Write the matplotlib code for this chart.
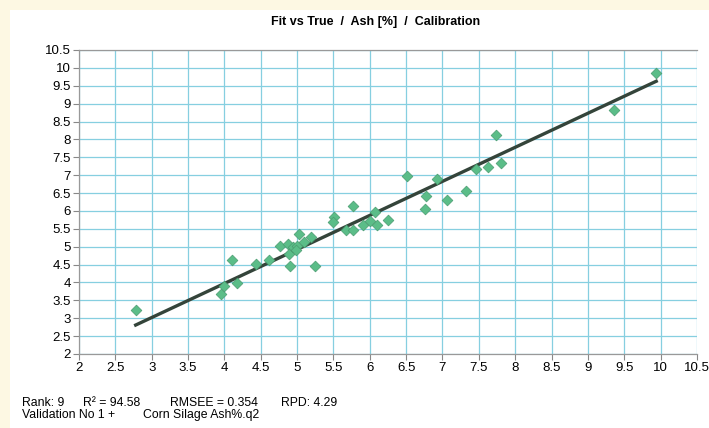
import numpy as np
import matplotlib.pyplot as plt
from matplotlib.patches import Rectangle

plt.rcParams['font.family'] = ['Liberation Sans', 'DejaVu Sans']

# True vs fitted ash values (%)
true_vals = [2.79, 3.96, 3.99, 4.10, 4.17, 4.43, 4.62, 4.76, 4.87, 4.89,
             4.90, 4.95, 5.03, 5.00, 4.99, 5.10, 5.19, 5.25, 5.51, 5.50,
             5.77, 5.67, 5.77, 5.91, 6.00, 6.07, 6.10, 6.25, 6.51, 6.78,
             6.76, 6.93, 7.06, 7.32, 7.46, 7.62, 7.73, 7.80, 9.36, 9.94]
fit_vals = [3.23, 3.67, 3.90, 4.62, 3.99, 4.52, 4.62, 5.01, 5.08, 4.80,
            4.47, 5.00, 5.36, 5.02, 4.90, 5.12, 5.26, 4.47, 5.82, 5.69,
            6.15, 5.46, 5.46, 5.60, 5.73, 5.97, 5.62, 5.74, 6.97, 6.41,
            6.06, 6.88, 6.30, 6.56, 7.16, 7.24, 8.11, 7.35, 8.83, 9.86]

# regression line (slope, intercept) and its range
line_coef = [0.952, 0.163]
line_x = [2.78, 9.94]

ticks = np.arange(2, 10.51, 0.5)
tick_labels = ['2', '2.5', '3', '3.5', '4', '4.5', '5', '5.5', '6', '6.5',
               '7', '7.5', '8', '8.5', '9', '9.5', '10', '10.5']

# footer statistics
stats_line1 = ['Rank: 9', 'R\u00b2 = 94.58', 'RMSEE = 0.354', 'RPD: 4.29']
stats_line2 = ['Validation No 1 +', 'Corn Silage Ash%.q2']

fig = plt.figure(figsize=(7.09, 4.28), dpi=100)
fig.patch.set_facecolor('#fdf8e3')
fig.patches.append(Rectangle((10 / 709, 0), 1, 1 - 10 / 428,
                             transform=fig.transFigure, facecolor='white',
                             edgecolor='none', zorder=-1))

ax = fig.add_axes([0.1114, 0.1729, 0.8716, 0.7103])
ax.set_xlim(2, 10.5)
ax.set_ylim(2, 10.5)
ax.set_xticks(ticks)
ax.set_xticklabels(tick_labels, fontsize=9.5)
ax.set_yticks(ticks)
ax.set_yticklabels(tick_labels, fontsize=9.5)
ax.grid(True, color='#86cfe0', linewidth=0.9)
ax.set_axisbelow(True)
ax.tick_params(length=4, color='#888888', pad=2)

for side in ['left', 'bottom', 'top']:
    ax.spines[side].set_color('#999999')
    ax.spines[side].set_linewidth(0.9)
ax.spines['right'].set_visible(False)

lx = np.array(line_x)
ax.plot(lx, line_coef[0] * lx + line_coef[1], color='#34443a', linewidth=2.4,
        zorder=3)
ax.scatter(true_vals, fit_vals, marker='D', s=30, color='#5bbd88',
           edgecolor='#4a9c70', linewidth=0.5, zorder=4)

fig.text(376 / 709, 1 - 22 / 428, 'Fit vs True  /  Ash [%]  /  Calibration',
         ha='center', va='center', fontsize=9, fontweight='bold')

x1 = [22, 83, 170, 281]
for x, s in zip(x1, stats_line1):
    fig.text(x / 709, 1 - 403 / 428, s, ha='left', va='center', fontsize=8.8)
x2 = [22, 143]
for x, s in zip(x2, stats_line2):
    fig.text(x / 709, 1 - 415 / 428, s, ha='left', va='center', fontsize=8.8)

fig.savefig('out.png', dpi=100)
